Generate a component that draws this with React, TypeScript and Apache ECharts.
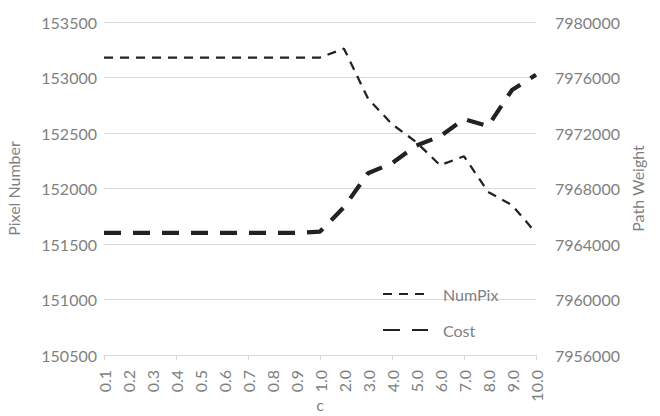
import React, { useEffect, useRef } from "react";
import * as echarts from "echarts";

// Parameter c along the x axis
const categories = [
  "0.1", "0.2", "0.3", "0.4", "0.5", "0.6", "0.7", "0.8", "0.9", "1.0",
  "2.0", "3.0", "4.0", "5.0", "6.0", "7.0", "8.0", "9.0", "10.0",
];

// Pixel count (left axis)
const numPix = [
  153180, 153180, 153180, 153180, 153180, 153180, 153180, 153180, 153180, 153180,
  153260, 152810, 152580, 152420, 152210, 152290, 151970, 151850, 151600,
];

// Total path weight (right axis)
const cost = [
  7964800, 7964800, 7964800, 7964800, 7964800, 7964800, 7964800, 7964800, 7964800, 7964900,
  7966650, 7969100, 7969820, 7971080, 7971760, 7973000, 7972500, 7975100, 7976200,
];

const FONT = "Lato";
const GREY = "#7f7f7f";
const GRID = "#d9d9d9";
const INK = "#222222";

const plain = (v: number) => String(v);

export default function App() {
  const ref = useRef<HTMLDivElement>(null);

  useEffect(() => {
    if (!ref.current) return;
    const chart = echarts.init(ref.current, undefined, { renderer: "svg" });
    chart.setOption({
      animation: false,
      textStyle: { fontFamily: FONT },
      grid: {
        left: 104,
        right: 124,
        top: 22,
        bottom: 61,
        containLabel: false,
        outerBoundsMode: "none",
      },
      legend: {
        orient: "vertical",
        left: 382,
        top: 286,
        padding: 0,
        itemWidth: 45,
        itemHeight: 14,
        itemGap: 20,
        itemStyle: { opacity: 0 },
        textStyle: {
          fontFamily: FONT,
          fontSize: 16,
          lineHeight: 14,
          color: GREY,
          padding: [0, 0, 0, 10],
        },
        data: ["NumPix", "Cost"],
      },
      xAxis: {
        type: "category",
        data: categories,
        boundaryGap: false,
        name: "c",
        nameLocation: "middle",
        nameGap: 41,
        nameMoveOverlap: false,
        nameTextStyle: { fontFamily: FONT, fontSize: 16, lineHeight: 16, color: GREY },
        axisLine: { lineStyle: { color: GRID, width: 1 } },
        axisTick: { show: true, interval: 2, length: 5, lineStyle: { color: GRID } },
        axisLabel: {
          interval: 0,
          rotate: 90,
          margin: 15,
          fontFamily: FONT,
          fontSize: 16,
          color: GREY,
        },
        splitLine: { show: false },
      },
      yAxis: [
        {
          type: "value",
          min: 150500,
          max: 153500,
          interval: 500,
          name: "Pixel Number",
          nameLocation: "middle",
          nameRotate: 90,
          nameGap: 83,
          nameMoveOverlap: false,
          nameTextStyle: { fontFamily: FONT, fontSize: 16, color: GREY },
          axisLine: { show: false },
          axisTick: { show: false },
          axisLabel: { margin: 7, fontFamily: FONT, fontSize: 16, color: GREY, formatter: plain },
          splitLine: { lineStyle: { color: GRID, width: 1 } },
        },
        {
          type: "value",
          min: 7956000,
          max: 7980000,
          interval: 4000,
          name: "Path Weight",
          nameLocation: "middle",
          nameRotate: 90,
          nameGap: 93,
          nameMoveOverlap: false,
          nameTextStyle: { fontFamily: FONT, fontSize: 16, color: GREY },
          axisLine: { show: false },
          axisTick: { show: false },
          axisLabel: { margin: 19, fontFamily: FONT, fontSize: 16, color: GREY, formatter: plain },
          splitLine: { show: false },
        },
      ],
      series: [
        {
          name: "NumPix",
          type: "line",
          yAxisIndex: 0,
          data: numPix,
          symbol: "none",
          lineStyle: { color: INK, width: 2.25, type: [9, 7], cap: "butt" },
          itemStyle: { color: INK },
        },
        {
          name: "Cost",
          type: "line",
          yAxisIndex: 1,
          data: cost,
          symbol: "none",
          lineStyle: { color: INK, width: 4.25, type: [17, 12], cap: "butt" },
          itemStyle: { color: INK },
        },
      ],
    });
    return () => chart.dispose();
  }, []);

  return <div ref={ref} style={{ width: 660, height: 416, position: "absolute", left: 0, top: 0 }} />;
}
